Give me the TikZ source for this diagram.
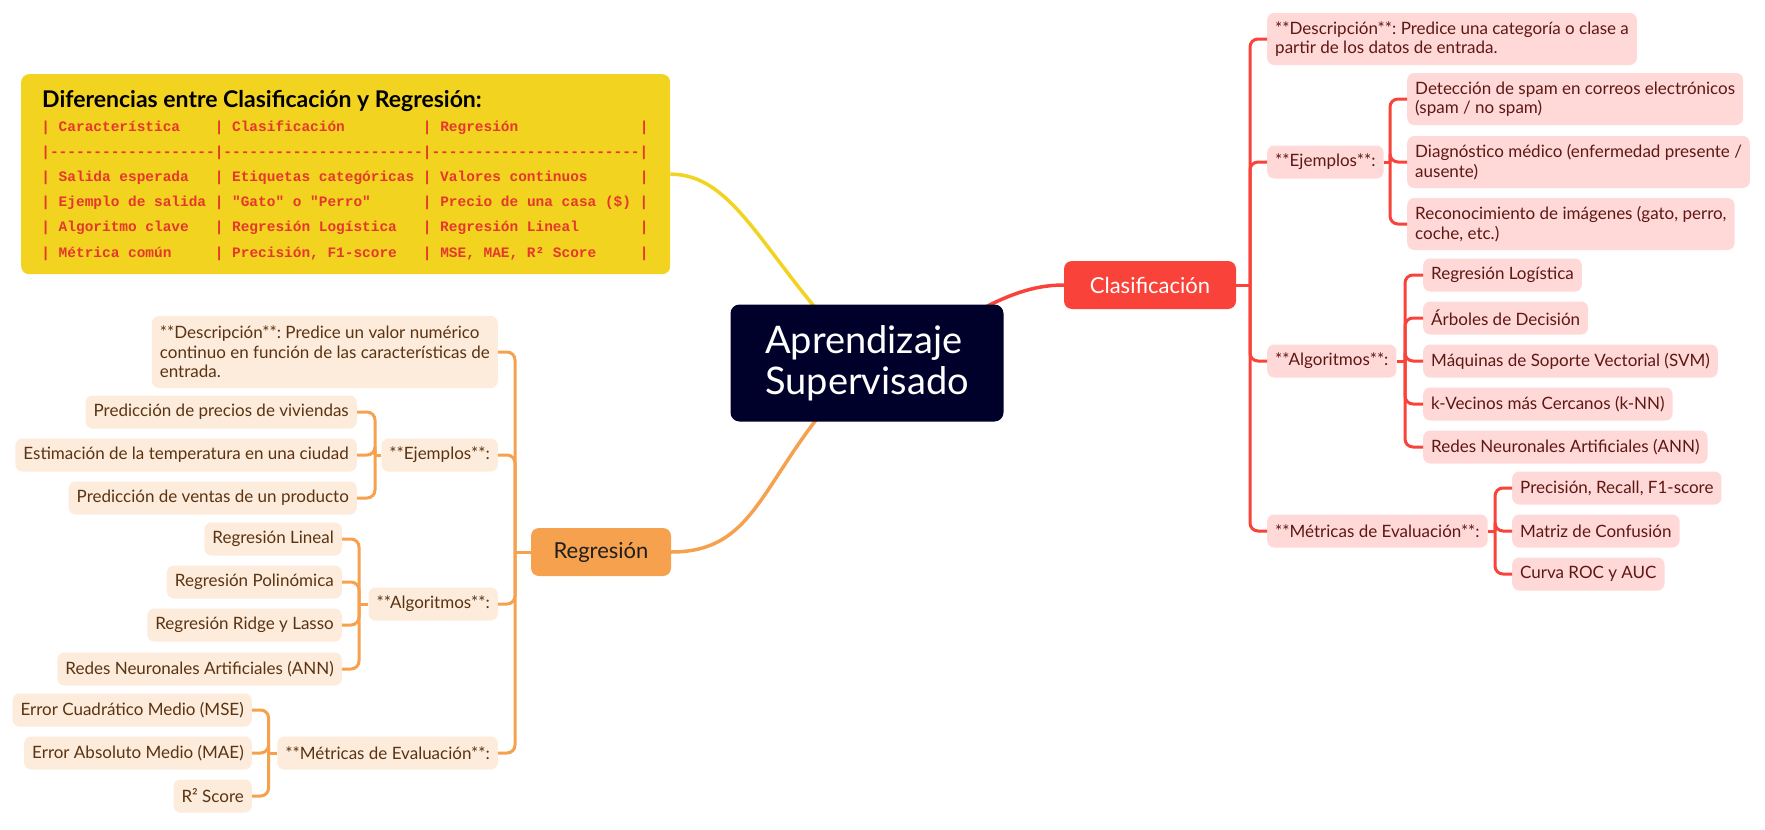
\documentclass[tikz,border=0pt]{standalone}
\usepackage{fontspec}
\setmainfont{Lato}
\newfontfamily\tblfont{Liberation Mono}[Ligatures=TeXOff]
\usetikzlibrary{backgrounds,calc}
\definecolor{cred}{HTML}{F9423A}
\definecolor{clfill}{HTML}{FFD9D8}
\definecolor{cltext}{HTML}{5E1714}
\definecolor{corange}{HTML}{F6A14E}
\definecolor{rlfill}{HTML}{FDEBDC}
\definecolor{rltext}{HTML}{5A3412}
\definecolor{cyellow}{HTML}{F2D31F}
\definecolor{ctbl}{HTML}{E5372E}
\definecolor{cnavy}{HTML}{00012B}
\newlength\cwid
\setlength\cwid{8.672pt}
\newcommand\trow[4]{\makebox[20\cwid][l]{#1}\makebox[24\cwid][l]{#2}\makebox[25\cwid][l]{#3}#4}
\frenchspacing
\tikzset{
  leafbase/.style={rounded corners=7pt, inner xsep=8pt, inner ysep=0pt, minimum height=33pt, align=left, font=\fontsize{17}{19.5}\selectfont},
  cleaf/.style={leafbase, fill=clfill, text=cltext, anchor=west},
  rleaf/.style={leafbase, fill=rlfill, text=rltext, anchor=east},
  cline/.style={draw=cred, line width=3pt},
  rline/.style={draw=corange, line width=3pt},
  clink/.style={cline, rounded corners=8pt},
  rlink/.style={rline, rounded corners=8pt},
}
\begin{document}
\begin{tikzpicture}[x=1pt,y=-1pt]
\useasboundingbox (0,0) rectangle (1765,830);
% trunk positions
\coordinate (xc) at (1250,0);
\coordinate (xce) at (1390,0);
\coordinate (xca) at (1405,0);
\coordinate (xcm) at (1495,0);
\coordinate (xr) at (515,0);
\coordinate (xre) at (375,0);
\coordinate (xra) at (359,0);
\coordinate (xrm) at (268.6,0);
% central
\node[fill=cnavy, text=white, rounded corners=9pt, minimum width=273pt, minimum height=117pt, align=left, font=\fontsize{38}{41}\selectfont] (cen) at (867,363) {Aprendizaje\\Supervisado};
% main branches
\node[fill=cred, text=white, rounded corners=8pt, minimum width=172pt, minimum height=48pt, font=\fontsize{22}{25}\selectfont] (clas) at (1150,285) {Clasificación};
\node[fill=corange, text=black!88, rounded corners=8pt, minimum width=140pt, minimum height=48pt, font=\fontsize{22}{25}\selectfont] (reg) at (601,552) {Regresión};
% table box
\node[fill=cyellow, rounded corners=8pt, minimum width=649pt, minimum height=200pt, anchor=north west, inner sep=0pt] (tbl) at (21,74) {};
\node[anchor=base west, inner sep=0pt, font=\bfseries\fontsize{23}{26}\selectfont] (ttl) at (42,107) {Diferencias entre Clasificación y Regresión:};
\node[anchor=base west, inner sep=0pt, text=ctbl, align=left, font=\tblfont\bfseries\fontsize{14.45}{25.2}\selectfont] (tbody) at (41.2,257) {%
\trow{| Característica}{| Clasificación}{| Regresión}{|}\\
\trow{|-------------------}{|-----------------------}{|------------------------}{|}\\
\trow{| Salida esperada}{| Etiquetas categóricas}{| Valores continuos}{|}\\
\trow{| Ejemplo de salida}{| "Gato" o "Perro"}{| Precio de una casa (\$)}{|}\\
\trow{| Algoritmo clave}{| Regresión Logística}{| Regresión Lineal}{|}\\
\trow{| Métrica común}{| Precisión, F1-score}{| MSE, MAE, R² Score}{|}};
% classification leaves
\node[cleaf, minimum height=52pt] (cdesc) at (1267,39) {**Descripción**: Predice una categoría o clase a\\partir de los datos de entrada.};
\node[cleaf] (cej) at (1267,162) {**Ejemplos**:};
\node[cleaf, minimum height=52pt] (ce1) at (1407,99) {Detección de spam en correos electrónicos\\(spam / no spam)};
\node[cleaf, minimum height=52pt] (ce2) at (1407,162) {Diagnóstico médico (enfermedad presente /\\ausente)};
\node[cleaf, minimum height=52pt] (ce3) at (1407,224) {Reconocimiento de imágenes (gato, perro,\\coche, etc.)};
\node[cleaf] (calg) at (1267,361) {**Algoritmos**:};
\node[cleaf] (ca1) at (1423,275) {Regresión Logística};
\node[cleaf] (ca2) at (1423,318) {Árboles de Decisión};
\node[cleaf] (ca3) at (1423,361) {Máquinas de Soporte Vectorial (SVM)};
\node[cleaf] (ca4) at (1423,404) {k-Vecinos más Cercanos (k-NN)};
\node[cleaf] (ca5) at (1423,447) {Redes Neuronales Artificiales (ANN)};
\node[cleaf] (cmet) at (1267,531) {**Métricas de Evaluación**:};
\node[cleaf] (cm1) at (1512,488) {Precisión, Recall, F1-score};
\node[cleaf] (cm2) at (1512,531) {Matriz de Confusión};
\node[cleaf] (cm3) at (1512,574) {Curva ROC y AUC};
% regression leaves
\node[rleaf, minimum height=72pt] (rdesc) at (498,352) {**Descripción**: Predice un valor numérico\\continuo en función de las características de\\entrada.};
\node[rleaf] (rej) at (498,455) {**Ejemplos**:};
\node[rleaf] (re1) at (357,412) {Predicción de precios de viviendas};
\node[rleaf] (re2) at (357,455) {Estimación de la temperatura en una ciudad};
\node[rleaf] (re3) at (357,498) {Predicción de ventas de un producto};
\node[rleaf] (ralg) at (498,604) {**Algoritmos**:};
\node[rleaf] (ra1) at (342,539) {Regresión Lineal};
\node[rleaf] (ra2) at (342,582) {Regresión Polinómica};
\node[rleaf] (ra3) at (342,625) {Regresión Ridge y Lasso};
\node[rleaf] (ra4) at (342,669) {Redes Neuronales Artificiales (ANN)};
\node[rleaf] (rmet) at (498,753) {**Métricas de Evaluación**:};
\node[rleaf] (rm1) at (252,710) {Error Cuadrático Medio (MSE)};
\node[rleaf] (rm2) at (252,753) {Error Absoluto Medio (MAE)};
\node[rleaf] (rm3) at (252,796) {R² Score};
% curves behind central node
\begin{scope}[on background layer]
\fill[white] (0,0) rectangle (1765,830);
\draw[draw=cyellow, line width=3.5pt] (cen.center) .. controls (768,270) and (740,174) .. (tbl.east);
\draw[draw=corange, line width=3.5pt] (cen.center) .. controls (760,465) and (765,552) .. (reg.east);
\draw[draw=cred, line width=3.5pt] (cen.center) .. controls (960,330) and (1000,285) .. (clas.west);
\end{scope}
% classification connectors
\draw[cline] (clas.east) -- (clas.east -| xc) coordinate (cJ);
\foreach \n in {cdesc,cej,calg,cmet} \draw[clink] (cJ) |- (\n.west);
\draw[cline] (cej.east) -- (cej.east -| xce) coordinate (cejJ);
\foreach \n in {ce1,ce2,ce3} \draw[clink] (cejJ) |- (\n.west);
\draw[cline] (calg.east) -- (calg.east -| xca) coordinate (calgJ);
\foreach \n in {ca1,ca2,ca3,ca4,ca5} \draw[clink] (calgJ) |- (\n.west);
\draw[cline] (cmet.east) -- (cmet.east -| xcm) coordinate (cmetJ);
\foreach \n in {cm1,cm2,cm3} \draw[clink] (cmetJ) |- (\n.west);
% regression connectors
\draw[rline] (reg.west) -- (reg.west -| xr) coordinate (rJ);
\foreach \n in {rdesc,rej,ralg,rmet} \draw[rlink] (rJ) |- (\n.east);
\draw[rline] (rej.west) -- (rej.west -| xre) coordinate (rejJ);
\foreach \n in {re1,re2,re3} \draw[rlink] (rejJ) |- (\n.east);
\draw[rline] (ralg.west) -- (ralg.west -| xra) coordinate (ralgJ);
\foreach \n in {ra1,ra2,ra3,ra4} \draw[rlink] (ralgJ) |- (\n.east);
\draw[rline] (rmet.west) -- (rmet.west -| xrm) coordinate (rmetJ);
\foreach \n in {rm1,rm2,rm3} \draw[rlink] (rmetJ) |- (\n.east);
\end{tikzpicture}
\end{document}
